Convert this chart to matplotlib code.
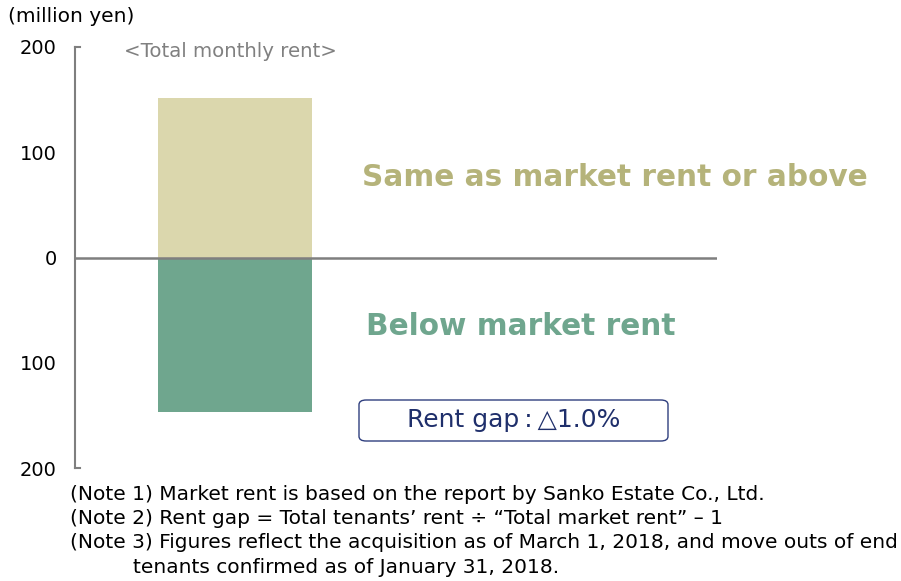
import matplotlib.pyplot as plt
from matplotlib.patches import FancyBboxPatch

# --- data
categories = ["Same as market rent or above", "Below market rent"]
values = [152, -147]
bar_colors = ["#DBD7AD", "#6FA68E"]
label_colors = ["#B5B37A", "#6FA68E"]
yticks = [200, 100, 0, -100, -200]
ytick_labels = ["200", "100", "0", "100", "200"]
gap_text = "Rent gap\u2009:\u2009\u25b31.0%"
notes = [
    "(Note 1) Market rent is based on the report by Sanko Estate Co., Ltd.",
    "(Note 2) Rent gap = Total tenants\u2019 rent \u00f7 \u201cTotal market rent\u201d \u2013 1",
    "(Note 3) Figures reflect the acquisition as of March 1, 2018, and move outs of end",
    "tenants confirmed as of January 31, 2018.",
]

plt.rcParams['font.family'] = ['DejaVu Sans', 'Noto Sans CJK JP']

fig = plt.figure(figsize=(9.01, 5.81), dpi=100)
W, H = 901, 581
ax = fig.add_axes([75 / W, 1 - 468 / H, (717 - 75) / W, (468 - 47) / H])
ax.set_xlim(0, 1)
ax.set_ylim(-200, 200)

for v, c in zip(values, bar_colors):
    ax.bar(0.249, v, width=0.24, color=c, zorder=1)
ax.axhline(0, color="#7f7f7f", lw=1.8, zorder=2)

# spines: left only, with small end ticks
for s in ["top", "right", "bottom"]:
    ax.spines[s].set_visible(False)
ax.spines["left"].set_color("#7f7f7f")
ax.spines["left"].set_linewidth(1.5)
ax.plot([0, 0.008], [200, 200], color="#7f7f7f", lw=1.5, clip_on=False)
ax.plot([0, 0.008], [-200, -200], color="#7f7f7f", lw=1.5, clip_on=False)
ax.set_xticks([])
ax.set_yticks(yticks)
ax.set_yticklabels(ytick_labels, fontsize=14)
ax.tick_params(axis="y", length=0, pad=13)

# labels
ax.text((362 - 75) / 642, 100 - (178 - 153) / 1.053, categories[0], fontsize=21.3,
        fontweight="bold", color=label_colors[0], va="center", ha="left")
ax.text((366 - 75) / 642, -(327 - 258) / 1.053, categories[1], fontsize=21.3,
        fontweight="bold", color=label_colors[1], va="center", ha="left")
ax.text((124 - 75) / 642, 200 - (52 - 47) / 1.053, "<Total monthly rent>", fontsize=14.2,
        color="#808080", va="center", ha="left")

# rent gap box
bx0, bx1, by0, by1 = 359, 668, 400, 441
box = FancyBboxPatch((bx0 / W, 1 - by1 / H), (bx1 - bx0) / W, (by1 - by0) / H,
                     boxstyle="round,pad=0,rounding_size=0.008",
                     transform=fig.transFigure, facecolor="white",
                     edgecolor="#2F3F7F", lw=1.0)
fig.patches.append(box)
fig.text((bx0 + bx1) / 2 / W, 1 - (by0 + by1) / 2 / H, gap_text, fontsize=18,
         color="#1F2F6B", ha="center", va="center")

fig.text(8 / W, 1 - 17 / H, "(million yen)", fontsize=14.5, va="center", ha="left")
for i, n in enumerate(notes):
    x0 = 70 if i < 3 else 133
    fig.text(x0 / W, 1 - (494 + 24.5 * i) / H, n, fontsize=14.5, va="center", ha="left")

fig.savefig("out.png", dpi=100)
